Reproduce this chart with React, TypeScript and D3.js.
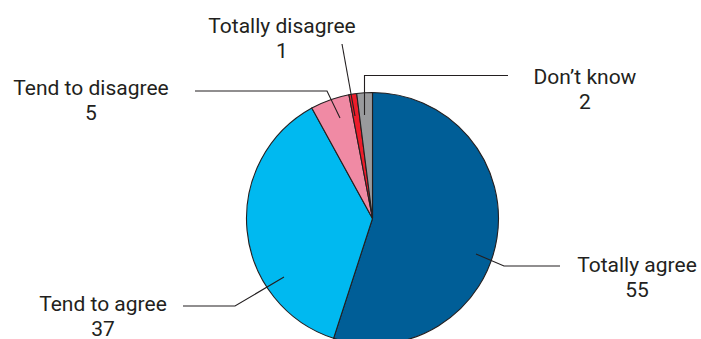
import React from "react";
import * as d3 from "d3";

// Survey answers, clockwise from 12 o'clock
const categories = ["Totally agree", "Tend to agree", "Tend to disagree", "Totally disagree", "Don’t know"];
const values = [55, 37, 5, 1, 2];
const colors = ["#005e97", "#00b9f0", "#f08aa4", "#ec1c2a", "#999a9d"];

// Label placement: text centre / baseline and leader line points
const labelLayout = [
  { tx: 637, ty: 272, line: [[476, 254], [504, 266], [560, 266]] },
  { tx: 103, ty: 311, line: [[284, 277], [235, 306], [183, 306]] },
  { tx: 91, ty: 95, line: [[340, 118], [327, 91], [195, 91]] },
  { tx: 282, ty: 33, line: [[355, 116], [342, 44]] },
  { tx: 585, ty: 84, line: [[364.5, 115], [364.5, 75.5], [508, 75.5]] },
];

const W = 701;
const H = 339;
const cx = 372.5;
const cy = 218.5;
const R = 126;

export default function App() {
  const pie = d3.pie<number>().sort(null).value((d) => d)(values);
  const arc = d3.arc<d3.PieArcDatum<number>>().innerRadius(0).outerRadius(R);
  const line = d3.line();

  return (
    <svg
      width={W}
      height={H}
      style={{ position: "absolute", left: 0, top: 0, background: "#fff" }}
      fontFamily="Roboto, sans-serif"
    >
      <g transform={`translate(${cx},${cy})`}>
        {pie.map((p, i) => (
          <path key={i} d={arc(p) || ""} fill={colors[i]} stroke="#231f20" strokeWidth={1.1} strokeLinejoin="round" />
        ))}
      </g>
      {labelLayout.map((l, i) => (
        <g key={i}>
          <path d={line(l.line as [number, number][]) || ""} fill="none" stroke="#231f20" strokeWidth={1.1} />
          <text x={l.tx} y={l.ty} textAnchor="middle" fontSize={21} fill="#231f20">
            {categories[i]}
          </text>
          <text x={l.tx} y={l.ty + 25} textAnchor="middle" fontSize={21} fill="#231f20">
            {values[i]}
          </text>
        </g>
      ))}
    </svg>
  );
}
